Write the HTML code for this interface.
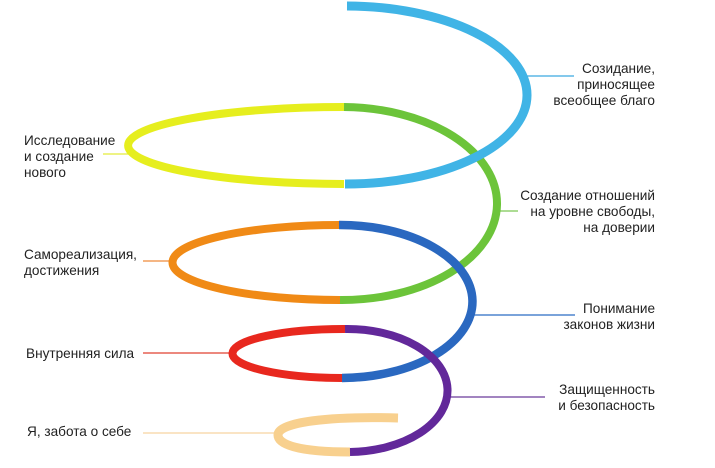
<!DOCTYPE html>
<html><head><meta charset="utf-8"><style>
html,body{margin:0;padding:0;background:#fff;}
svg{display:block;}
text{font-family:"Liberation Sans",sans-serif;font-size:13.6px;fill:#222;}
</style></head><body>
<svg width="715" height="468" viewBox="0 0 715 468" xmlns="http://www.w3.org/2000/svg">
<g fill="none" stroke-linecap="butt">
<line x1="525" y1="76" x2="574" y2="76" stroke="#3aa9e0" stroke-width="1.2"/>
<line x1="497" y1="211" x2="518" y2="211" stroke="#7cc855" stroke-width="1.2"/>
<line x1="470" y1="315" x2="575" y2="315" stroke="#2a6cc4" stroke-width="1.2"/>
<line x1="445" y1="397" x2="545" y2="397" stroke="#6a3a9a" stroke-width="1.2"/>
<line x1="103" y1="154" x2="130" y2="154" stroke="#e4ec3a" stroke-width="1.2"/>
<line x1="143" y1="261" x2="173" y2="261" stroke="#ef8a3a" stroke-width="1.2"/>
<line x1="143" y1="353" x2="234" y2="353" stroke="#e04030" stroke-width="1.2"/>
<line x1="143" y1="433" x2="279" y2="433" stroke="#f6d4a0" stroke-width="1.2"/>
<path d="M344 184 A216 38.5 0 0 1 344 107" stroke="#e6ee1e" stroke-width="8"/>
<path d="M340 300 A167 37.5 0 0 1 339 225" stroke="#f08a16" stroke-width="8"/>
<path d="M342 378 A111 24.5 0 0 1 345 329" stroke="#e8281e" stroke-width="8"/>
<path d="M350 452 C300 452 278 445 278 435 C278 422 330 416 398 418" stroke="#f8d08e" stroke-width="9"/>
<path d="M344 107 A155 96.5 0 0 1 340 300" stroke="#6cc43a" stroke-width="8"/>
<path d="M339 225 A132 76.5 0 0 1 342 378" stroke="#2a68c0" stroke-width="8.5"/>
<path d="M345 329 A100 61.5 0 0 1 350 452" stroke="#62289a" stroke-width="8"/>
<path d="M347 6 A181 89 0 0 1 345 184" stroke="#40b4e6" stroke-width="9"/>
</g>
<g text-anchor="end">
<text x="655" y="73">Созидание,</text>
<text x="655" y="89">приносящее</text>
<text x="655" y="105">всеобщее благо</text>
<text x="655" y="200">Создание отношений</text>
<text x="655" y="216">на уровне свободы,</text>
<text x="655" y="232">на доверии</text>
<text x="655" y="313">Понимание</text>
<text x="655" y="329">законов жизни</text>
<text x="655" y="394">Защищенность</text>
<text x="655" y="410">и безопасность</text>
</g>
<text x="24" y="145">Исследование</text>
<text x="24" y="161">и создание</text>
<text x="24" y="177">нового</text>
<text x="24" y="259">Самореализация,</text>
<text x="24" y="275">достижения</text>
<text x="26" y="358">Внутренняя сила</text>
<text x="27" y="436">Я, забота о себе</text>
</svg>
</body></html>
